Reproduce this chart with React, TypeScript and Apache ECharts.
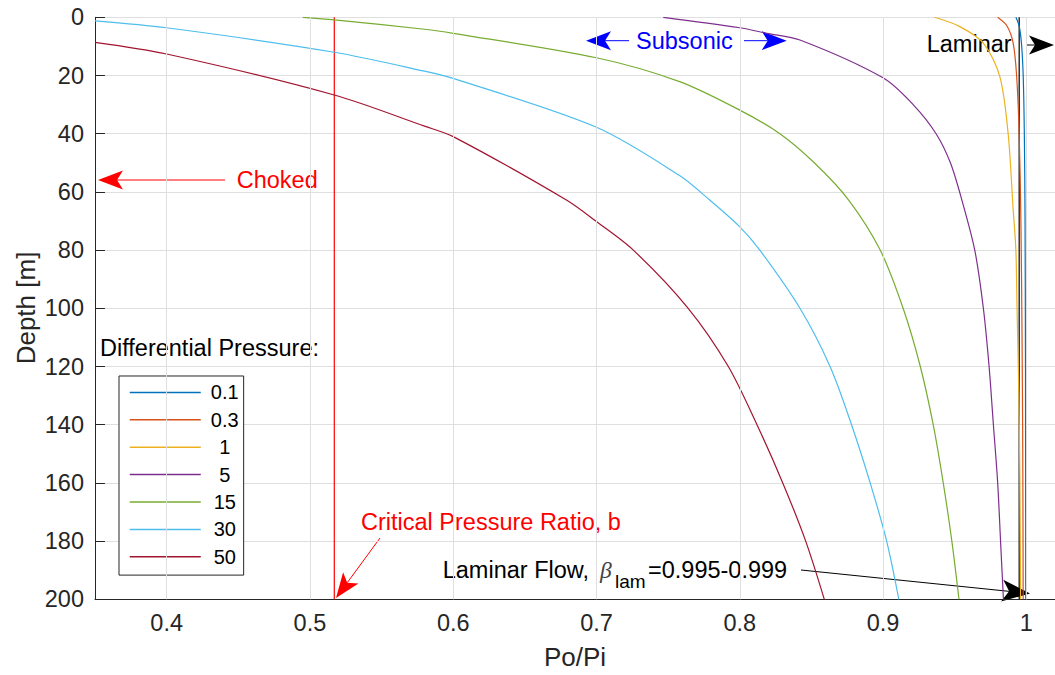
import React, { useEffect, useRef } from 'react';
import * as echarts from 'echarts';

// ---- data (x = Po/Pi, y = depth [m]) ----
const legendNames = ['0.1', '0.3', '1', '5', '15', '30', '50'];
const seriesColors = ['#0072BD', '#D95319', '#EDB120', '#7E2F8E', '#77AC30', '#4DBEEE', '#A2142F'];

const curveDp01: [number, number][] = [
  [0.9927, 0], [0.995, 3], [0.9966, 9], [0.9978, 20], [0.9986, 40], [0.9991, 70], [0.9994, 120], [0.9996, 200],
];
const curveDp03: [number, number][] = [
  [0.98, 0], [0.9865, 3], [0.9908, 8.9], [0.9932, 20], [0.995, 40], [0.9962, 70], [0.997, 110], [0.9975, 150], [0.9978, 200],
];
const curveDp1: [number, number][] = [
  [0.936, 0], [0.9536, 3.2], [0.97, 8.9], [0.9815, 20.4], [0.9873, 40], [0.9908, 66], [0.9927, 80], [0.9935, 100],
  [0.9948, 130], [0.9955, 160], [0.996, 200],
];
const curveDp5: [number, number][] = [
  [0.7466, 0], [0.8, 3.6], [0.819, 5.5], [0.842, 7.8], [0.9, 20.8], [0.921, 30], [0.937, 40], [0.947, 50],
  [0.955, 62.8], [0.964, 80], [0.97, 100], [0.974, 120], [0.977, 140], [0.98, 160], [0.982, 180], [0.984, 200],
];
const curveDp15: [number, number][] = [
  [0.495, 0], [0.517, 0.9], [0.58, 4.1], [0.6, 5.5], [0.7, 13.9], [0.758, 22.1], [0.8, 31.9], [0.828, 40],
  [0.852, 50], [0.876, 62.8], [0.898, 80], [0.914, 100], [0.926, 120], [0.935, 140], [0.942, 160], [0.948, 180], [0.953, 200],
];
const curveDp30: [number, number][] = [
  [0.35, 1.2], [0.4, 3.6], [0.517, 12.0], [0.58, 18.5], [0.6, 21], [0.7, 37.8], [0.758, 54.4], [0.779, 62.8],
  [0.8, 72], [0.814, 80], [0.842, 100], [0.863, 120], [0.878, 140], [0.891, 160], [0.9025, 180], [0.911, 200],
];
const curveDp50: [number, number][] = [
  [0.35, 8.6], [0.4, 12.6], [0.517, 26.7], [0.58, 37.4], [0.6, 41], [0.679, 62.8], [0.7, 70.2], [0.7257, 80],
  [0.764, 100], [0.792, 120], [0.812, 140], [0.83, 160], [0.846, 180], [0.859, 200],
];
const curves = [curveDp01, curveDp03, curveDp1, curveDp5, curveDp15, curveDp30, curveDp50];

const xTicks = [0.4, 0.5, 0.6, 0.7, 0.8, 0.9, 1.0];
const xMin = 0.35;
const xMax = 1.02;
const depthMin = 0;
const depthMax = 200;
const depthStep = 20;
const criticalRatio = 0.517;
const laminarLimit = 0.995;

const FONT = '"Liberation Sans", Arial, Helvetica, sans-serif';
const AX = '#262626';
const GRID = '#dfdfdf';

function arrow(x1: number, y1: number, x2: number, y2: number, color: string, len = 25, half = 9.5, notch = 6) {
  const dx = x2 - x1;
  const dy = y2 - y1;
  const L = Math.hypot(dx, dy);
  const ux = dx / L;
  const uy = dy / L;
  const px = -uy;
  const py = ux;
  const bx = x2 - ux * len;
  const by = y2 - uy * len;
  const nx = x2 - ux * (len - notch);
  const ny = y2 - uy * (len - notch);
  return [
    { type: 'line', silent: true, shape: { x1, y1, x2: nx, y2: ny }, style: { stroke: color, lineWidth: 1 } },
    {
      type: 'polygon', silent: true,
      shape: { points: [[x2, y2], [bx + px * half, by + py * half], [nx, ny], [bx - px * half, by - py * half]] },
      style: { fill: color },
    },
  ];
}

function txt(text: string, x: number, y: number, fill: string, size = 23.5, extra: any = {}) {
  return {
    type: 'text', silent: true, x, y,
    style: { text, fill, fontSize: size, fontFamily: FONT, verticalAlign: 'middle', align: 'left', ...extra },
  };
}

export default function App() {
  const ref = useRef<HTMLDivElement>(null);
  useEffect(() => {
    if (!ref.current) return;
    const chart = echarts.init(ref.current, undefined, { renderer: 'svg' });
    const curveSeries = curves.map((c, i) => ({
      name: legendNames[i],
      type: 'line',
      data: c,
      symbol: 'none',
      showSymbol: false,
      smooth: 0.3,
      color: seriesColors[i],
      lineStyle: { width: 1.2, color: seriesColors[i] },
      z: 3,
    }));
    const option: any = {
      animation: false,
      backgroundColor: '#ffffff',
      grid: { left: 95, right: 0, top: 17.3, bottom: 75.7, containLabel: false },
      xAxis: {
        type: 'value', min: xMin, max: xMax,
        axisLine: { show: true, onZero: false, lineStyle: { color: AX, width: 1 } },
        axisTick: { show: true, inside: true, length: 10, customValues: xTicks, lineStyle: { color: AX } },
        axisLabel: {
          customValues: xTicks, fontSize: 23.5, color: AX, fontFamily: FONT, margin: 12,
          formatter: (v: number) => String(Number(v.toFixed(2))),
        },
        splitLine: { show: false },
      },
      yAxis: {
        type: 'value', inverse: true, min: depthMin, max: depthMax, interval: depthStep,
        axisLine: { show: true, onZero: false, lineStyle: { color: AX, width: 1 } },
        axisTick: { show: true, inside: true, length: 10, lineStyle: { color: AX } },
        axisLabel: { fontSize: 23.5, color: AX, fontFamily: FONT, margin: 11 },
        splitLine: { show: true, lineStyle: { color: GRID, width: 1 } },
      },
      legend: {
        data: legendNames,
        orient: 'vertical',
        left: 119, top: 376,
        itemWidth: 71, itemHeight: 14, itemGap: 7.4,
        padding: [6.4, 5, 8.3, 10],
        backgroundColor: '#ffffff',
        borderColor: AX, borderWidth: 1, borderRadius: 0,
        selectedMode: false,
        itemStyle: { opacity: 0, borderWidth: 0 },
        lineStyle: { width: 1.5 },
        formatter: (n: string) => `{c|${n}}`,
        textStyle: {
          fontSize: 20, color: '#000', fontFamily: FONT,
          rich: { c: { width: 38, align: 'center', fontSize: 20, fontFamily: FONT, color: '#000' } },
        },
      },
      series: [
        {
          name: 'grid-x', type: 'line', data: [], z: 1, silent: true,
          markLine: {
            silent: true, symbol: ['none', 'none'], label: { show: false },
            lineStyle: { color: GRID, width: 1, type: 'solid' },
            emphasis: { disabled: true },
            data: xTicks.map((v) => ({ xAxis: v })),
          },
        },
        {
          name: 'critical', type: 'line', symbol: 'none', z: 2, silent: true,
          data: [[criticalRatio, depthMin], [criticalRatio, depthMax]],
          lineStyle: { color: '#ff0000', width: 1.2 }, color: '#ff0000',
        },
        {
          name: 'laminar', type: 'line', symbol: 'none', z: 2, silent: true,
          data: [[laminarLimit, depthMin], [laminarLimit, depthMax]],
          lineStyle: { color: '#000000', width: 1.2 }, color: '#000000',
        },
        ...curveSeries,
      ],
      graphic: [
        txt('Differential Pressure:', 100, 348, '#000'),
        txt('Choked', 236.7, 180, '#ff0000'),
        ...arrow(225, 180, 98, 180, '#ff0000'),
        txt('Subsonic', 636, 40.5, '#0000ff'),
        ...arrow(629, 40.7, 586, 40.7, '#0000ff'),
        ...arrow(744, 40.7, 786.7, 40.7, '#0000ff'),
        txt('Laminar', 926.7, 44, '#000'),
        ...arrow(1026, 45, 1054, 45, '#000'),
        txt('Critical Pressure Ratio, b', 361, 522, '#ff0000'),
        ...arrow(380, 538, 336, 598, '#ff0000'),
        txt('Laminar Flow, ', 442.7, 569.5, '#000'),
        txt('β', 600, 569.5, '#444', 23.5, { fontStyle: 'italic', fontFamily: '"Liberation Serif", serif' }),
        txt('lam', 615, 581, '#000', 19),
        txt('=0.995-0.999', 648, 569.5, '#000'),
        ...arrow(801, 570, 1030, 593.5, '#000', 28, 11, 7),
        txt('Po/Pi', 575, 657, AX, 26, { align: 'center' }),
        {
          type: 'text', silent: true, x: 26, y: 308, rotation: Math.PI / 2,
          style: { text: 'Depth [m]', fill: AX, fontSize: 26, fontFamily: FONT, align: 'center', verticalAlign: 'middle' },
        },
      ],
    };
    chart.setOption(option);
    return () => chart.dispose();
  }, []);
  return (
    <div
      ref={ref}
      style={{ position: 'absolute', left: 0, top: 0, width: 1055, height: 675, background: '#fff' }}
    />
  );
}
